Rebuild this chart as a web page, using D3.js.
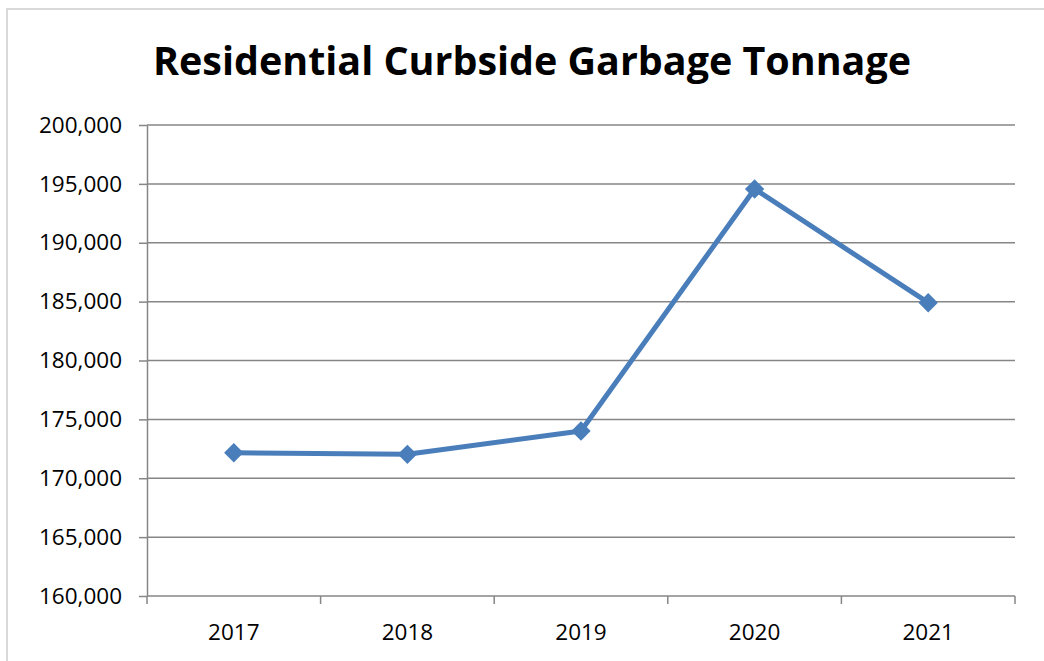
<!DOCTYPE html>
<html>
<head>
<meta charset="utf-8">
<script src="https://cdn.jsdelivr.net/npm/d3@7"></script>
<style>
  body { margin: 0; background: #fff; }
  svg { display: block; }
  .axis text { font-family: "Open Sans", sans-serif; font-size: 22.5px; fill: #000; }
  .axis path, .axis line { stroke: #868686; stroke-width: 1.5; }
</style>
</head>
<body>
<div id="chart"></div>
<script>
var years = ["2017", "2018", "2019", "2020", "2021"];
var tonnage = [172170, 172030, 174010, 194570, 184910];
var yTicks = [160000, 165000, 170000, 175000, 180000, 185000, 190000, 195000, 200000];
var title = "Residential Curbside Garbage Tonnage";

var W = 1044, H = 661;
var margin = {top: 125, right: 29, bottom: 65, left: 147},
    width = W - margin.left - margin.right,
    height = H - margin.top - margin.bottom;

var svg = d3.select("#chart").append("svg")
    .attr("width", W)
    .attr("height", H);

// outer frame
svg.append("rect")
    .attr("x", 7).attr("y", 9)
    .attr("width", W).attr("height", H)
    .attr("fill", "none")
    .attr("stroke", "#d9d9d9")
    .attr("stroke-width", 2);

svg.append("text")
    .attr("x", 532).attr("y", 75)
    .attr("text-anchor", "middle")
    .attr("textLength", 758)
    .attr("lengthAdjust", "spacingAndGlyphs")
    .style("font-family", "'Open Sans', sans-serif")
    .style("font-weight", "bold")
    .style("font-size", "40px")
    .text(title);

var g = svg.append("g").attr("transform", "translate(" + margin.left + "," + margin.top + ")");

var x = d3.scaleBand().domain(years).range([0, width]);
var y = d3.scaleLinear().domain([160000, 200000]).range([height, 0]);

// gridlines
g.selectAll(".grid")
  .data(yTicks.slice(1))
  .enter().append("line")
    .attr("class", "grid")
    .attr("x1", 0).attr("x2", width)
    .attr("y1", function(d) { return y(d); })
    .attr("y2", function(d) { return y(d); })
    .attr("stroke", "#868686")
    .attr("stroke-width", 1.5);

var yAxis = d3.axisLeft(y)
    .tickValues(yTicks)
    .tickFormat(d3.format(","))
    .tickSize(8)
    .tickPadding(17)
    .tickSizeOuter(0);

var yg = g.append("g").attr("class", "axis").call(yAxis);

// x axis: ticks at band boundaries, labels at band centers
var xg = g.append("g")
    .attr("class", "axis")
    .attr("transform", "translate(0," + height + ")");

xg.append("line")
    .attr("x1", 0).attr("x2", width)
    .attr("y1", 0).attr("y2", 0);

xg.selectAll(".xtick")
  .data(years.concat(["end"]))
  .enter().append("line")
    .attr("class", "xtick")
    .attr("x1", function(d, i) { return i < years.length ? x(d) : width; })
    .attr("x2", function(d, i) { return i < years.length ? x(d) : width; })
    .attr("y1", 0).attr("y2", 8);

xg.selectAll(".xlabel")
  .data(years)
  .enter().append("text")
    .attr("class", "xlabel")
    .attr("x", function(d) { return x(d) + x.bandwidth() / 2; })
    .attr("y", 44)
    .attr("text-anchor", "middle")
    .text(function(d) { return d; });

var data = years.map(function(d, i) { return {year: d, value: tonnage[i]}; });

var line = d3.line()
    .x(function(d) { return x(d.year) + x.bandwidth() / 2; })
    .y(function(d) { return y(d.value); });

g.append("path")
    .datum(data)
    .attr("d", line)
    .attr("fill", "none")
    .attr("stroke", "#4a7ebb")
    .attr("stroke-width", 5)
    .attr("stroke-linejoin", "round");

g.selectAll(".marker")
  .data(data)
  .enter().append("path")
    .attr("class", "marker")
    .attr("d", d3.symbol().type(d3.symbolDiamond2).size(240))
    .attr("transform", function(d) {
      return "translate(" + (x(d.year) + x.bandwidth() / 2) + "," + y(d.value) + ")";
    })
    .attr("fill", "#4a7ebb");
</script>
</body>
</html>
